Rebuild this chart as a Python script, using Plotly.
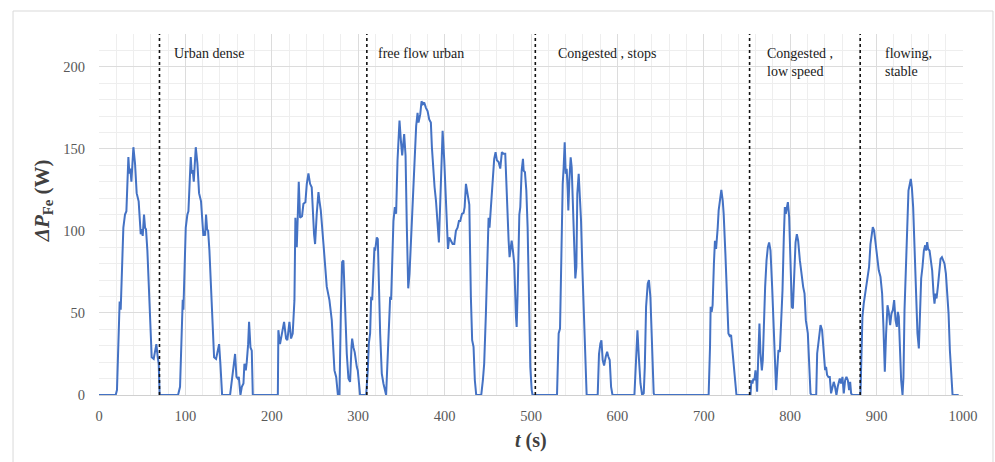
import plotly.graph_objects as go

# Iron-loss increase over the drive cycle (time in s, power in W)
time_s = [
    0, 19.3, 20.8, 23.2, 23.9, 25.1, 28.2, 30.1, 31.7, 34, 35.1, 36.3, 37.5, 39.8, 41.7, 43.6, 45.9,
    48.3, 49.4, 50.6, 52.1, 53.3, 54.4, 56, 59.1, 61, 63.3, 64.9, 66.4, 68, 69.1, 70.2,
    91.5, 93.8, 95.8, 96.9, 97.7, 100.4, 102.3, 103.5, 106.2, 107.3, 108.5, 109.7, 112, 113.9, 115.8,
    118.1, 120.8, 122, 122.8, 123.9, 125.1, 126.3, 127.8, 131.3, 133.2, 135.5, 137.5, 139, 140.5, 142, 142.5,
    151.7, 154.4, 157.5, 159.1, 160.6, 161.8, 163.7, 165.3, 167.2, 168.3, 169.9, 171, 172.6, 173.7, 175.3,
    176.8, 178,
    207, 207.6, 209.5, 211.5, 214.2, 216.5, 218, 220.4, 222.3, 224.2, 226.2, 227.3, 228.9, 230, 231.2,
    232.7, 235, 236.6, 238.9, 240.5, 242.4, 244.3, 246.2, 248.9, 250.1, 252, 254, 255.1, 256.7, 259.8,
    263.6, 266.7, 269.4, 272.5, 274.5, 276.5, 278.3, 279.9, 281.4, 282.9, 284.9, 286.8, 288.7, 290.6,
    292.2, 293, 294.5, 296, 298.4, 299.5, 302.2, 309.2, 311.1, 312.3, 313.8, 315, 316.2, 317.7, 318.8,
    319.6, 321.5, 322.7, 323.8, 325.4, 327.3, 329.2, 332.3, 333.9, 335.8, 337, 338.1, 340.8, 342.4, 343.9,
    345.5, 347.8, 349.4, 350.9, 353.2, 354.8, 356.3, 357.9, 359.4, 362.1, 365.2, 367.1, 368.7, 369.8,
    371.8, 373.3, 374.9, 376.4, 378.4, 380.3, 382.2, 384.1, 385.3, 387.3, 388.4, 390, 392.3, 393.4, 395.8,
    397.7, 399.6, 401.5, 403.9, 405.4, 407.3, 409.3, 411.2, 413.1, 415, 416.6, 418.1, 420.1, 422, 423.2,
    424.7, 426.6, 428.6, 430.4, 431.9, 433.5, 435, 436.6, 442.4, 444.3, 445.8, 447.8, 449.7, 450.9, 452,
    453.6, 455.5, 457.4, 459, 460.5, 462.5, 464.4, 466.3, 468.3, 470.2, 472.1, 474.1, 475.2, 476, 477.6,
    479.1, 480.6, 482.6, 483.4, 484.5, 486.5, 487.6, 489.2, 490.7, 491.5, 493, 494.6, 496.1, 497.7, 499.2,
    500.8, 501.9,
    530.1, 532, 533.6, 535.1, 536.7, 537.8, 539, 540.2, 541.3, 542.5, 543.2, 544.4, 545.9, 547.1, 548.6,
    550.2, 551.3, 552.5, 553.6, 555.2, 556.3, 557.9, 559.4, 561, 562.9, 564.4,
    577.2, 578.7, 580.3, 581.5, 583, 584.6, 586.5, 588.1, 589.6, 591.1, 592.7, 594.3,
    619.7, 621.3, 623.2, 624.8, 626.7, 628.6, 630.5, 631.7, 633.2, 635.1, 636.5, 638.2, 640, 642, 642.8,
    705.6, 707.2, 707.9, 709.1, 710.2, 711.7, 712.9, 714.2, 715.2, 716.1, 717.2, 718.8, 720.3, 721.9, 723,
    725, 727, 728.5, 730, 731.6, 733.1, 734.7, 736.2, 737.8,
    754, 755.1, 756.3, 757.4, 758.6, 759.8, 760.9, 761.7, 762.9, 764.4, 765.6, 767.2, 768.3, 769.5, 771,
    772.6, 774.1, 775.6, 777.2, 779.1, 781, 782.6, 783.7, 784.9, 786.4, 788, 789.5, 791.1, 792.6, 793.8,
    794.9, 796.1, 797.3, 798.8, 800.4, 801.9, 803.1, 804.6, 806.2, 807.7, 809.2, 811.2, 813.5, 815, 816.6,
    818.1, 820.4, 822, 823.5, 824.7,
    830.1, 831.2, 832.8, 835.1, 836.9, 838.8, 840.4, 841.5, 842.7, 844.2, 845.8, 847.3, 848.8, 850.4,
    851.9, 853.5, 855, 857.4, 858.9, 860.5, 862, 863.6, 865.1, 866.7, 868.2, 869.4, 870.5, 871.7,
    881.3, 883.6, 885.1, 886.7, 888.2, 889.8, 891.3, 892.9, 894.4, 895.6, 897.1, 898.7, 900.6, 902.5,
    904.5, 906.4, 907.9, 909.5, 911, 912.6, 914.1, 915.7, 917.2, 918.8, 920.3, 921.9, 923.4, 924.6, 925.7,
    926.9, 928.4, 930, 931.1, 932.3, 933.8, 935.4, 936.9, 938.5, 939.6, 940.8, 942.3, 943.9, 945.8, 947.3,
    948.9, 950.4, 951.6, 953.1, 954.7, 956.2, 957.4, 958.5, 959.7, 961.3, 962.8, 964.3, 965.9, 967, 968.2,
    969.4, 970.9, 972.5, 974, 975.6, 977.1, 978.6, 980.2, 981.7, 983.3, 984.8, 986.7, 987.9, 995,
]

dp_fe = [
    0, 0, 3, 48, 57, 52, 102, 110, 112, 145, 135, 138, 130, 151, 141, 123, 118,
    98, 101, 97, 110, 102, 101, 88, 48, 23, 22, 27, 31, 23, 19, 0,
    0, 5, 52, 58, 52, 102, 110, 112, 145, 135, 137, 130, 151, 141, 123,
    118, 97, 100, 97, 110, 101, 100, 88, 48, 23, 22, 27, 31, 19, 1, 0,
    0, 13, 25, 11, 10, 11, 0, 5, 7, 19, 15, 20, 31, 44.6, 29,
    27, 0,
    0, 39.5, 31, 37.5, 44.6, 34.4, 33.4, 44.6, 34.4, 37.5, 57.8, 108, 90, 108, 130,
    108, 109, 116.5, 117.5, 128.7, 135, 128.7, 126.6, 98, 92, 110.4, 123.6, 118.5, 112.5, 92,
    66, 57.8, 45.6, 15, 11, 0, 0, 49.6, 81, 82, 49.6, 25, 10, 8,
    29, 34.4, 29, 26, 17, 15, 0, 0, 15, 31.4, 37.5, 59.8, 57.8, 82, 90,
    88, 96, 95, 70, 37.5, 13, 7, 0, 19, 51.7, 59.8, 58, 106, 114.5, 110.4,
    142.9, 167.2, 155, 146, 159, 146, 102, 65, 74, 106, 140.8, 164, 172, 166,
    171, 179, 177.3, 178.3, 175, 173, 168, 166, 151, 130.7, 126.6, 118.5, 96, 93, 130.7,
    161, 143, 116.5, 89, 96, 94, 92, 92, 100, 102, 106, 106, 110.4, 111, 114.5,
    128.7, 123, 116, 59.8, 33.4, 29.4, 9, 0, 0, 9, 19, 49.6, 88, 108, 102,
    114.5, 134.8, 143.9, 148, 143, 142, 138, 148, 147, 147, 114.5, 94, 84, 88, 94,
    88, 80, 47.6, 41.5, 61.8, 110, 114.5, 136.8, 143.9, 136.8, 135.8, 124.6, 102, 65.9, 17,
    3, 0,
    0, 37.5, 40.5, 90, 128.7, 138.8, 154, 134.8, 137.8, 124.6, 112.5, 130.7, 144.9, 138.8, 110.4,
    86, 71, 78, 122.6, 134.8, 124.6, 106.4, 78, 49.6, 13, 0,
    0, 25, 31.4, 33.4, 21.3, 18, 23.3, 26.3, 23.3, 21.3, 5, 0,
    0, 19, 39.5, 23.3, 7, 0, 1, 17, 53.7, 67.9, 70, 59.8, 29.4, 1, 0,
    0, 29.4, 53.7, 50.7, 54.7, 80, 94, 89, 94, 102, 112.5, 120.6, 125, 118.5, 110.4,
    86, 53.7, 37.5, 35.9, 36.5, 27.4, 19.3, 9, 0,
    0, 9, 7, 10, 9, 15, 9, 2, 21.3, 43.6, 25.3, 15, 21.3, 43.6, 65.9,
    82, 90, 93, 88, 65.9, 35.5, 11, 3, 15, 27.4, 26.3, 45.6, 63.8, 96, 114.5,
    110.4, 113.5, 117.5, 108.4, 80, 53.7, 52.7, 72, 93, 98, 94, 82, 70, 65.9, 61.8,
    45.6, 37.5, 17, 1, 0,
    0, 25.3, 33.4, 42.6, 39.5, 25.3, 15.2, 17.2, 12.2, 11, 11, 1, 5, 8,
    5, 0, 5, 10, 7, 11, 1, 9, 11, 9, 3, 8, 1, 0,
    0, 47.6, 55.7, 60.8, 65.9, 72, 78, 92, 99.3, 102.3, 100.3, 94, 84, 76,
    72, 61.8, 41.5, 14.2, 37.5, 54.7, 50.7, 42.6, 49.6, 51.7, 57.8, 45.6, 41.5, 50.7, 47.6,
    29.4, 9, 0, 11, 51.7, 78, 100.3, 124.6, 128.7, 131.7, 126.6, 114.5, 90, 57.8, 37.5,
    28.4, 57.8, 71, 78, 88, 91.2, 88, 93.2, 89, 88, 82, 76, 61.8, 55.7, 61.8,
    58.8, 65.9, 78, 83, 84, 82, 80, 74, 61.8, 49.6, 27.4, 5, 0, 0,
]

# Traffic-regime boundaries (s) and their labels
regime_bounds = [70, 310, 505, 753, 881]
regime_labels = ["Urban dense", "free flow urban", "Congested , stops",
                 "Congested ,<br>low speed", "flowing,<br>stable"]
regime_label_t = [84.5, 321, 529, 771, 907.5]

x_ticks = list(range(0, 1001, 100))
y_ticks = list(range(0, 201, 50))

SERIF = "Liberation Serif, Times New Roman, serif"

fig = go.Figure()
fig.add_trace(go.Scatter(
    x=time_s, y=dp_fe, mode="lines",
    line=dict(color="#4472C4", width=2),
    showlegend=False, hoverinfo="x+y",
))

for b in regime_bounds:
    fig.add_shape(type="line", x0=b, x1=b, y0=0, y1=220, xref="x", yref="y",
                  line=dict(color="#111111", width=1.6, dash="dot"), layer="above")

for lbl, t in zip(regime_labels, regime_label_t):
    fig.add_annotation(x=t, y=214, xref="x", yref="y", text=lbl, showarrow=False,
                       xanchor="left", yanchor="top", align="left",
                       font=dict(family=SERIF, size=14, color="#1a1a1a"))

# axis titles
fig.add_annotation(x=-0.0648, y=0.537, xref="paper", yref="paper", textangle=-90,
                   xanchor="center", yanchor="middle",
                   text="<b><i>ΔP</i><sub>Fe</sub> (W)</b>", showarrow=False,
                   font=dict(family=SERIF, size=21, color="#404040"))
fig.add_annotation(x=0.5, y=-0.127, xref="paper", yref="paper",
                   xanchor="center", yanchor="middle",
                   text="<b><i>t</i> (s)</b>", showarrow=False,
                   font=dict(family=SERIF, size=20, color="#404040"))

# outer frame
fig.add_shape(type="rect", xref="paper", yref="paper",
              x0=-0.0995, x1=1.0347, y0=-0.25, y1=1.0637,
              line=dict(color="#d9d9d9", width=1), fillcolor="rgba(0,0,0,0)", layer="below")

fig.update_xaxes(
    range=[0, 1000], tickvals=x_ticks, ticks="", showline=True, linecolor="#d0d0d0",
    showgrid=True, gridcolor="#dcdcdc", gridwidth=1, zeroline=False,
    minor=dict(dtick=20, showgrid=True, gridcolor="#eeeeee"),
    tickfont=dict(family=SERIF, size=14.5, color="#595959"), ticklabelstandoff=8,
)
fig.update_yaxes(
    range=[0, 220], tickvals=y_ticks, ticks="", showline=False,
    showgrid=True, gridcolor="#dcdcdc", gridwidth=1, zeroline=False,
    minor=dict(dtick=10, showgrid=True, gridcolor="#eeeeee"),
    tickfont=dict(family=SERIF, size=14.5, color="#595959"), ticklabelstandoff=13,
)

fig.update_layout(
    width=995, height=462,
    margin=dict(l=99, r=32, t=34, b=67, autoexpand=False),
    paper_bgcolor="white", plot_bgcolor="white",
)

fig.write_html("out.html")
